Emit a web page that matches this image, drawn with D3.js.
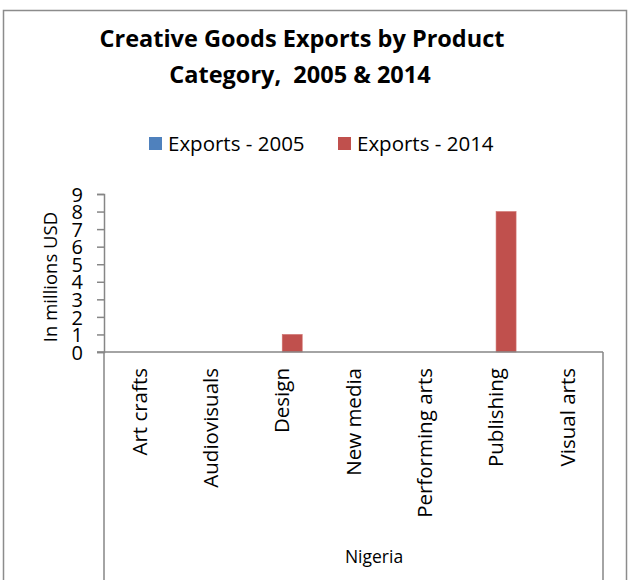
<!DOCTYPE html>
<html><head><meta charset="utf-8">
<script src="https://cdn.jsdelivr.net/npm/d3@7"></script>
<style>body{margin:0;background:#fff}svg{display:block}text{font-family:"Open Sans",sans-serif;fill:#000;white-space:pre}</style>
</head><body>
<svg id="c" width="629" height="580"></svg>
<script>
const categories = ["Art crafts","Audiovisuals","Design","New media","Performing arts","Publishing","Visual arts"];
const seriesNames = ["Exports - 2005","Exports - 2014"];
const exports2005 = [0,0,0,0,0,0,0];
const exports2014 = [0,0,1,0,0,8,0];
const yTicks = [0,1,2,3,4,5,6,7,8,9];
const groupLabel = "Nigeria";
const colors = ["#4F81BD","#C0504D"];

const svg = d3.select("#c");
const axisColor = "#868686";
svg.append("rect").attr("x",3.5).attr("y",10.5).attr("width",623).attr("height",580)
  .attr("fill","none").attr("stroke","#8c8c8c").attr("stroke-width",1.5);

const title = svg.append("text").attr("text-anchor","middle").attr("font-weight","bold").attr("font-size",23.5);
title.append("tspan").attr("x",302).attr("y",47).text("Creative Goods Exports by Product");
title.append("tspan").attr("x",300).attr("y",83).text("Category,  2005 & 2014");

const legendX = [149,338];
seriesNames.forEach((s,i)=>{
  svg.append("rect").attr("x",legendX[i]).attr("y",137).attr("width",13).attr("height",13).attr("fill",colors[i]);
  svg.append("text").attr("x",legendX[i]+19).attr("y",151).attr("font-size",20.5).text(s);
});

const x = d3.scaleBand().domain(categories).range([104,603]).padding(0);
const y = d3.scaleLinear().domain([0,9]).range([352,194]);
const xs = d3.scaleBand().domain(seriesNames).range([-20,20]);

const data = categories.map((c,i)=>({c, v:[exports2005[i],exports2014[i]]}));
const g = svg.append("g");
data.forEach(d=>{
  d.v.forEach((v,j)=>{
    if(v>0) g.append("rect")
      .attr("x", x(d.c)+x.bandwidth()/2+xs(seriesNames[j]))
      .attr("width", xs.bandwidth())
      .attr("y", y(v)).attr("height", y(0)-y(v))
      .attr("fill", colors[j]).attr("stroke","#d0716e").attr("stroke-width",0.6);
  });
});

const ya = svg.append("g").attr("transform","translate(104,0)")
  .call(d3.axisLeft(y).tickValues(yTicks).tickSize(7).tickPadding(14).tickFormat(d3.format("d")));
ya.select(".domain").attr("stroke",axisColor).attr("stroke-width",1.5);
ya.selectAll(".tick line").attr("stroke",axisColor).attr("stroke-width",1.5);
ya.selectAll(".tick text").attr("font-size",20).attr("font-family","'Open Sans',sans-serif").attr("fill","#000").attr("dy","0.36em");

svg.append("line").attr("x1",97).attr("x2",603).attr("y1",y(0)).attr("y2",y(0)).attr("stroke",axisColor).attr("stroke-width",1.5);
[x.range()[0], x.range()[1]].forEach(px=>{
  svg.append("line").attr("x1",px).attr("x2",px).attr("y1",y(0)).attr("y2",580).attr("stroke",axisColor).attr("stroke-width",1.5);
});
categories.forEach(c=>{
  svg.append("text").attr("transform",`translate(${x(c)+x.bandwidth()/2},368) rotate(-90)`)
    .attr("text-anchor","end").attr("dy","0.35em").attr("font-size",20.5).text(c);
});
svg.append("text").attr("x",374).attr("y",563).attr("text-anchor","middle").attr("font-size",17.5).text(groupLabel);

svg.append("text").attr("transform","translate(51,277) rotate(-90)").attr("text-anchor","middle")
  .attr("dy","0.35em").attr("font-size",18.5).text("In millions USD");
</script>
</body></html>
